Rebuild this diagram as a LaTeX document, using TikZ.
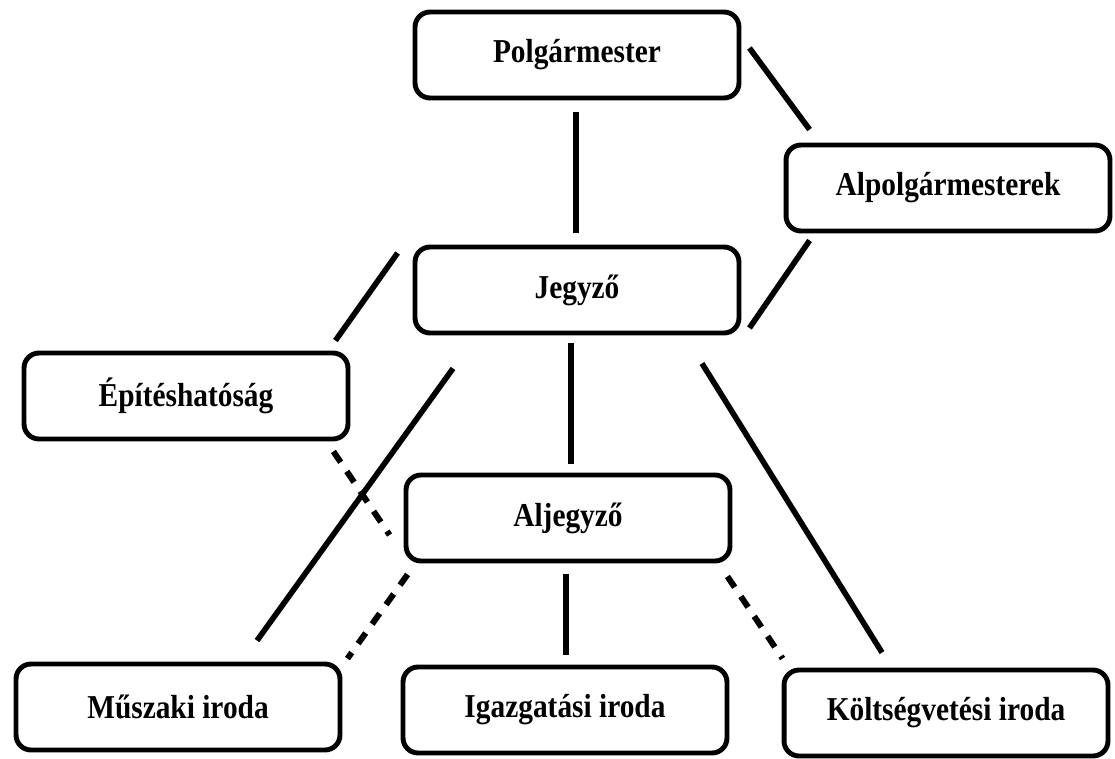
\documentclass[tikz,border=0pt]{standalone}
\usepackage{fontspec}
\setmainfont{Liberation Serif}
\newfontfamily\boxfont[FakeStretch=0.88]{Liberation Serif}
\usepackage{tikz}
\usetikzlibrary{calc}

\begin{document}
\begin{tikzpicture}[x=0.02cm,y=-0.02cm,
  box/.style={draw,line width=2.8pt,rounded corners=0.3cm,minimum width=6.48cm,minimum height=1.72cm,font=\boxfont\fontsize{19}{23}\selectfont\bfseries},
  link/.style={line width=3.2pt},
  dlink/.style={line width=3.4pt,dash pattern=on 0.26cm off 0.22cm}]
\useasboundingbox (0,0) rectangle (1115,758);
\node[box] (polg) at (577,55) {Polgármester};
\node[box] (alpolg) at (948,188) {Alpolgármesterek};
\node[box] (jegyzo) at (577,290) {Jegyző};
\node[box] (epit) at (186,396) {Építéshatóság};
\node[box] (aljegyzo) at (568,518) {Aljegyző};
\node[box] (musz) at (178,707) {Műszaki iroda};
\node[box] (igazg) at (565,710) {Igazgatási iroda};
\node[box] (koltseg) at (946,713) {Költségvetési iroda};

\draw[link] ($(polg.south)+(-1,12)$) -- ($(jegyzo.north)+(-1,-12)$);
\draw[link] ($(polg.east)+(8,-7)$) -- ($(alpolg.north west)+(26,-13)$);
\draw[link] ($(alpolg.south west)+(26,7)$) -- ($(jegyzo.east)+(8,38)$);
\draw[link] ($(jegyzo.west)+(-15,-37)$) -- ($(epit.north east)+(-15,-10)$);
\draw[link] ($(jegyzo.south)+(-6,8)$) -- ($(aljegyzo.north)+(3,-9)$);
\draw[link] ($(jegyzo.south)+(-124,33)$) -- ($(musz.north)+(79,-21)$);
\draw[link] ($(jegyzo.south)+(125,28)$) -- ($(koltseg.north)+(-64,-15)$);
\draw[link] ($(aljegyzo.south)+(-2,11)$) -- ($(igazg.north)+(1,-10)$);
\draw[dlink] ($(epit.south east)+(-17,10)$) -- ($(aljegyzo.west)+(-14,17)$);
\draw[dlink] ($(aljegyzo.south west)+(4,11)$) -- ($(musz.north east)+(5,-3)$);
\draw[dlink] ($(aljegyzo.south east)+(-5,13)$) -- ($(koltseg.north west)+(1,-9)$);
\end{tikzpicture}
\end{document}
